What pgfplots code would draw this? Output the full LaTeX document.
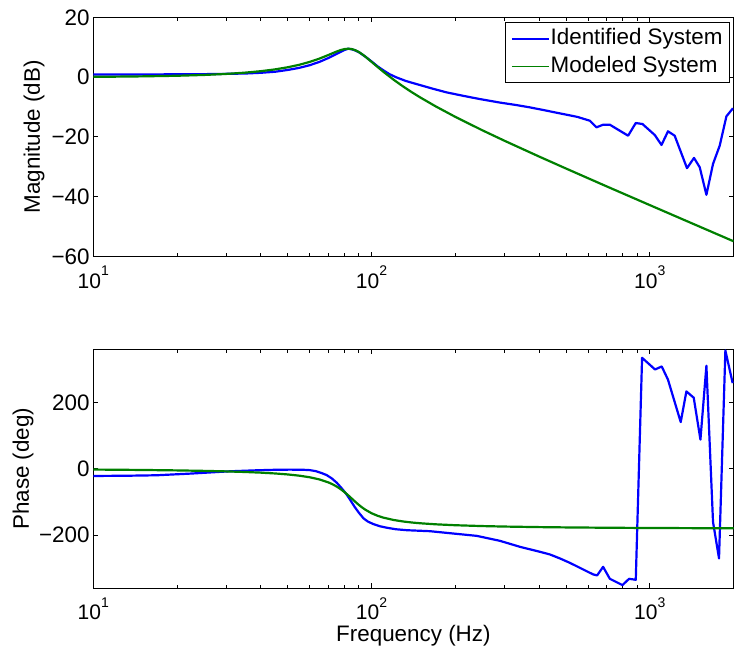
\documentclass[border=0pt]{standalone}
\usepackage{pgfplots}
\pgfplotsset{compat=1.18}
\usepackage{fontspec}
\setmainfont{Liberation Sans}
\newcommand\tfont{\fontsize{11.2}{13.4}\selectfont}
\newcommand\xl[1]{{\fontsize{10.5}{12}\selectfont 10}\raisebox{6.3pt}{\fontsize{7}{8}\selectfont #1}}

\pgfplotstableread{
f mag ph
10 0.11 -2.32
12 0.16 -2.80
15 0.26 -3.54
20 0.46 -4.84
25 0.73 -6.25
30 1.07 -7.81
35 1.49 -9.57
40 1.99 -11.61
45 2.59 -14.04
50 3.30 -17.00
55 4.13 -20.73
60 5.10 -25.56
65 6.20 -32.05
70 7.40 -41.03
72.5 8.00 -46.78
75 8.57 -53.57
77.5 9.05 -61.45
80 9.38 -70.36
82.5 9.50 -80.04
85 9.37 -90.00
87.5 8.99 -99.68
90 8.41 -108.60
92.5 7.67 -116.47
95 6.85 -123.25
100 5.12 -133.84
105 3.44 -141.39
110 1.88 -146.89
120 -0.85 -154.20
130 -3.15 -158.78
140 -5.12 -161.90
150 -6.84 -164.16
170 -9.76 -167.23
200 -13.27 -170.00
250 -17.75 -172.55
300 -21.23 -174.02
400 -26.53 -175.67
500 -30.54 -176.59
700 -36.51 -177.60
1000 -42.76 -178.33
1500 -49.84 -178.89
2000 -54.85 -179.17
}\modeled

\pgfplotstableread{
f mag
10 0.9
15 0.9
20 0.95
25 1.0
30 1.1
35 1.2
40 1.45
45 1.8
50 2.4
55 3.1
60 4.0
65 5.1
70 6.4
75 7.8
80 9.1
82.5 9.5
85 9.3
87.5 8.9
90 8.35
95 6.85
100 5.25
105 3.65
110 2.35
116 1.0
123 -0.1
133 -1.3
145.3 -2.33
165 -3.8
186.2 -5.1
215 -6.3
245.2 -7.33
289.3 -8.5
330 -9.3
370.7 -10.1
420 -11.1
488.3 -12.33
550 -13.3
609 -14.57
643.6 -16.77
679.7 -15.9
718.6 -15.9
835.9 -19.57
890.7 -15.33
941.4 -15.67
1042 -19.33
1102 -22.67
1163 -18.1
1229 -19.57
1361 -30.43
1442 -27
1512 -30.1
1598 -39.33
1688 -29
1784 -22.9
1886 -13.1
1991 -10.4
}\identmag

\pgfplotstableread{
f ph
10 -21.6
13 -21
16.9 -19.5
22.3 -14.5
31 -7.5
38.7 -4.5
45 -3
51 -2.5
57 -3
60 -4
63 -7
66 -12.5
69 -19
72 -29
75 -42
78 -58
81 -75
84 -95
87 -115
90 -132
93.5 -149
97 -159
101.5 -166.5
107 -173
113.4 -177.5
122 -182
133.8 -185
162.2 -188
196.7 -195
238.6 -202
289.3 -217
341.4 -235
402.7 -250
437.5 -258
475.2 -270
516.2 -283.3
625.9 -318.2
646.9 -321.2
679.7 -295.3
718.6 -331.4
798 -350.4
842.6 -331.4
890.7 -334.4
938.4 334.4
1044.7 299.2
1104 308.3
1163 268.3
1292 140.7
1354 233.1
1439 214.1
1521 87.8
1598 310.4
1688 -160.0
1774 -270.1
1870 356.4
1986 258.0
}\identph

\pgfplotsset{
  bode/.style={
    scale only axis, width=320.1pt, xmin=10, xmax=2000,
    axis line style={line width=0.5pt},
    every tick/.style={black, line width=0.5pt},
    major tick length=2.5pt, minor tick length=1.7pt,
    xtick={10,100,1000}, xticklabels={\xl{1},\xl{2},\xl{3}},
    xticklabel style={anchor=base, yshift=-15.85pt, inner sep=0pt},
    yticklabel style={anchor=east, inner sep=0pt, xshift=-1.65pt, font=\tfont},
    label style={font=\tfont},
    every axis plot/.append style={line width=1.1pt, line join=round},
  }
}
\definecolor{mblue}{rgb}{0,0,1}
\definecolor{mgreen}{rgb}{0,0.5,0}

\begin{document}
\begin{tikzpicture}[x=1pt,y=1pt]
\path[use as bounding box] (0,0) rectangle (367,-328);
\begin{semilogxaxis}[bode, at={(46.65pt,-8.65pt)}, anchor=north west,
  height=119.7pt, ymin=-60, ymax=20,
  ytick={-60,-40,-20,0,20}, yticklabels={−60,−40,−20,0,20},
  ylabel={Magnitude (dB)},
  ylabel style={at={(axis description cs:-0.0926,0.5)}, anchor=center},
  legend style={at={(0.99445,0.9791)}, anchor=north east, draw=black, line width=0.5pt,
    fill=white, inner xsep=3pt, inner ysep=1.1pt, row sep=0pt, font=\tfont,
    nodes={inner xsep=0.5pt, inner ysep=1.6pt, text height=8.2pt, text depth=2.4pt}},
  legend cell align=left,
  legend image code/.code={\draw[#1, line width=0.8pt] (0pt,0pt) -- (18.5pt,0pt);}]
\addplot[mblue] table[x=f, y=mag] {\identmag};
\addlegendentry{Identified System}
\addplot[mgreen] table[x=f, y=mag] {\modeled};
\addlegendentry{Modeled System}
\end{semilogxaxis}
\begin{semilogxaxis}[bode, at={(46.65pt,-174.65pt)}, anchor=north west,
  height=119.5pt, ymin=-360, ymax=360,
  ytick={-200,0,200}, yticklabels={−200,0,200},
  ylabel={Phase (deg)},
  ylabel style={at={(axis description cs:-0.1098,0.5)}, anchor=center},
  xlabel={Frequency (Hz)},
  xlabel style={at={(axis description cs:0.5,0)}, anchor=base, yshift=-26.7pt}]
\addplot[mblue] table[x=f, y=ph] {\identph};
\addplot[mgreen] table[x=f, y=ph] {\modeled};
\end{semilogxaxis}
\end{tikzpicture}
\end{document}
